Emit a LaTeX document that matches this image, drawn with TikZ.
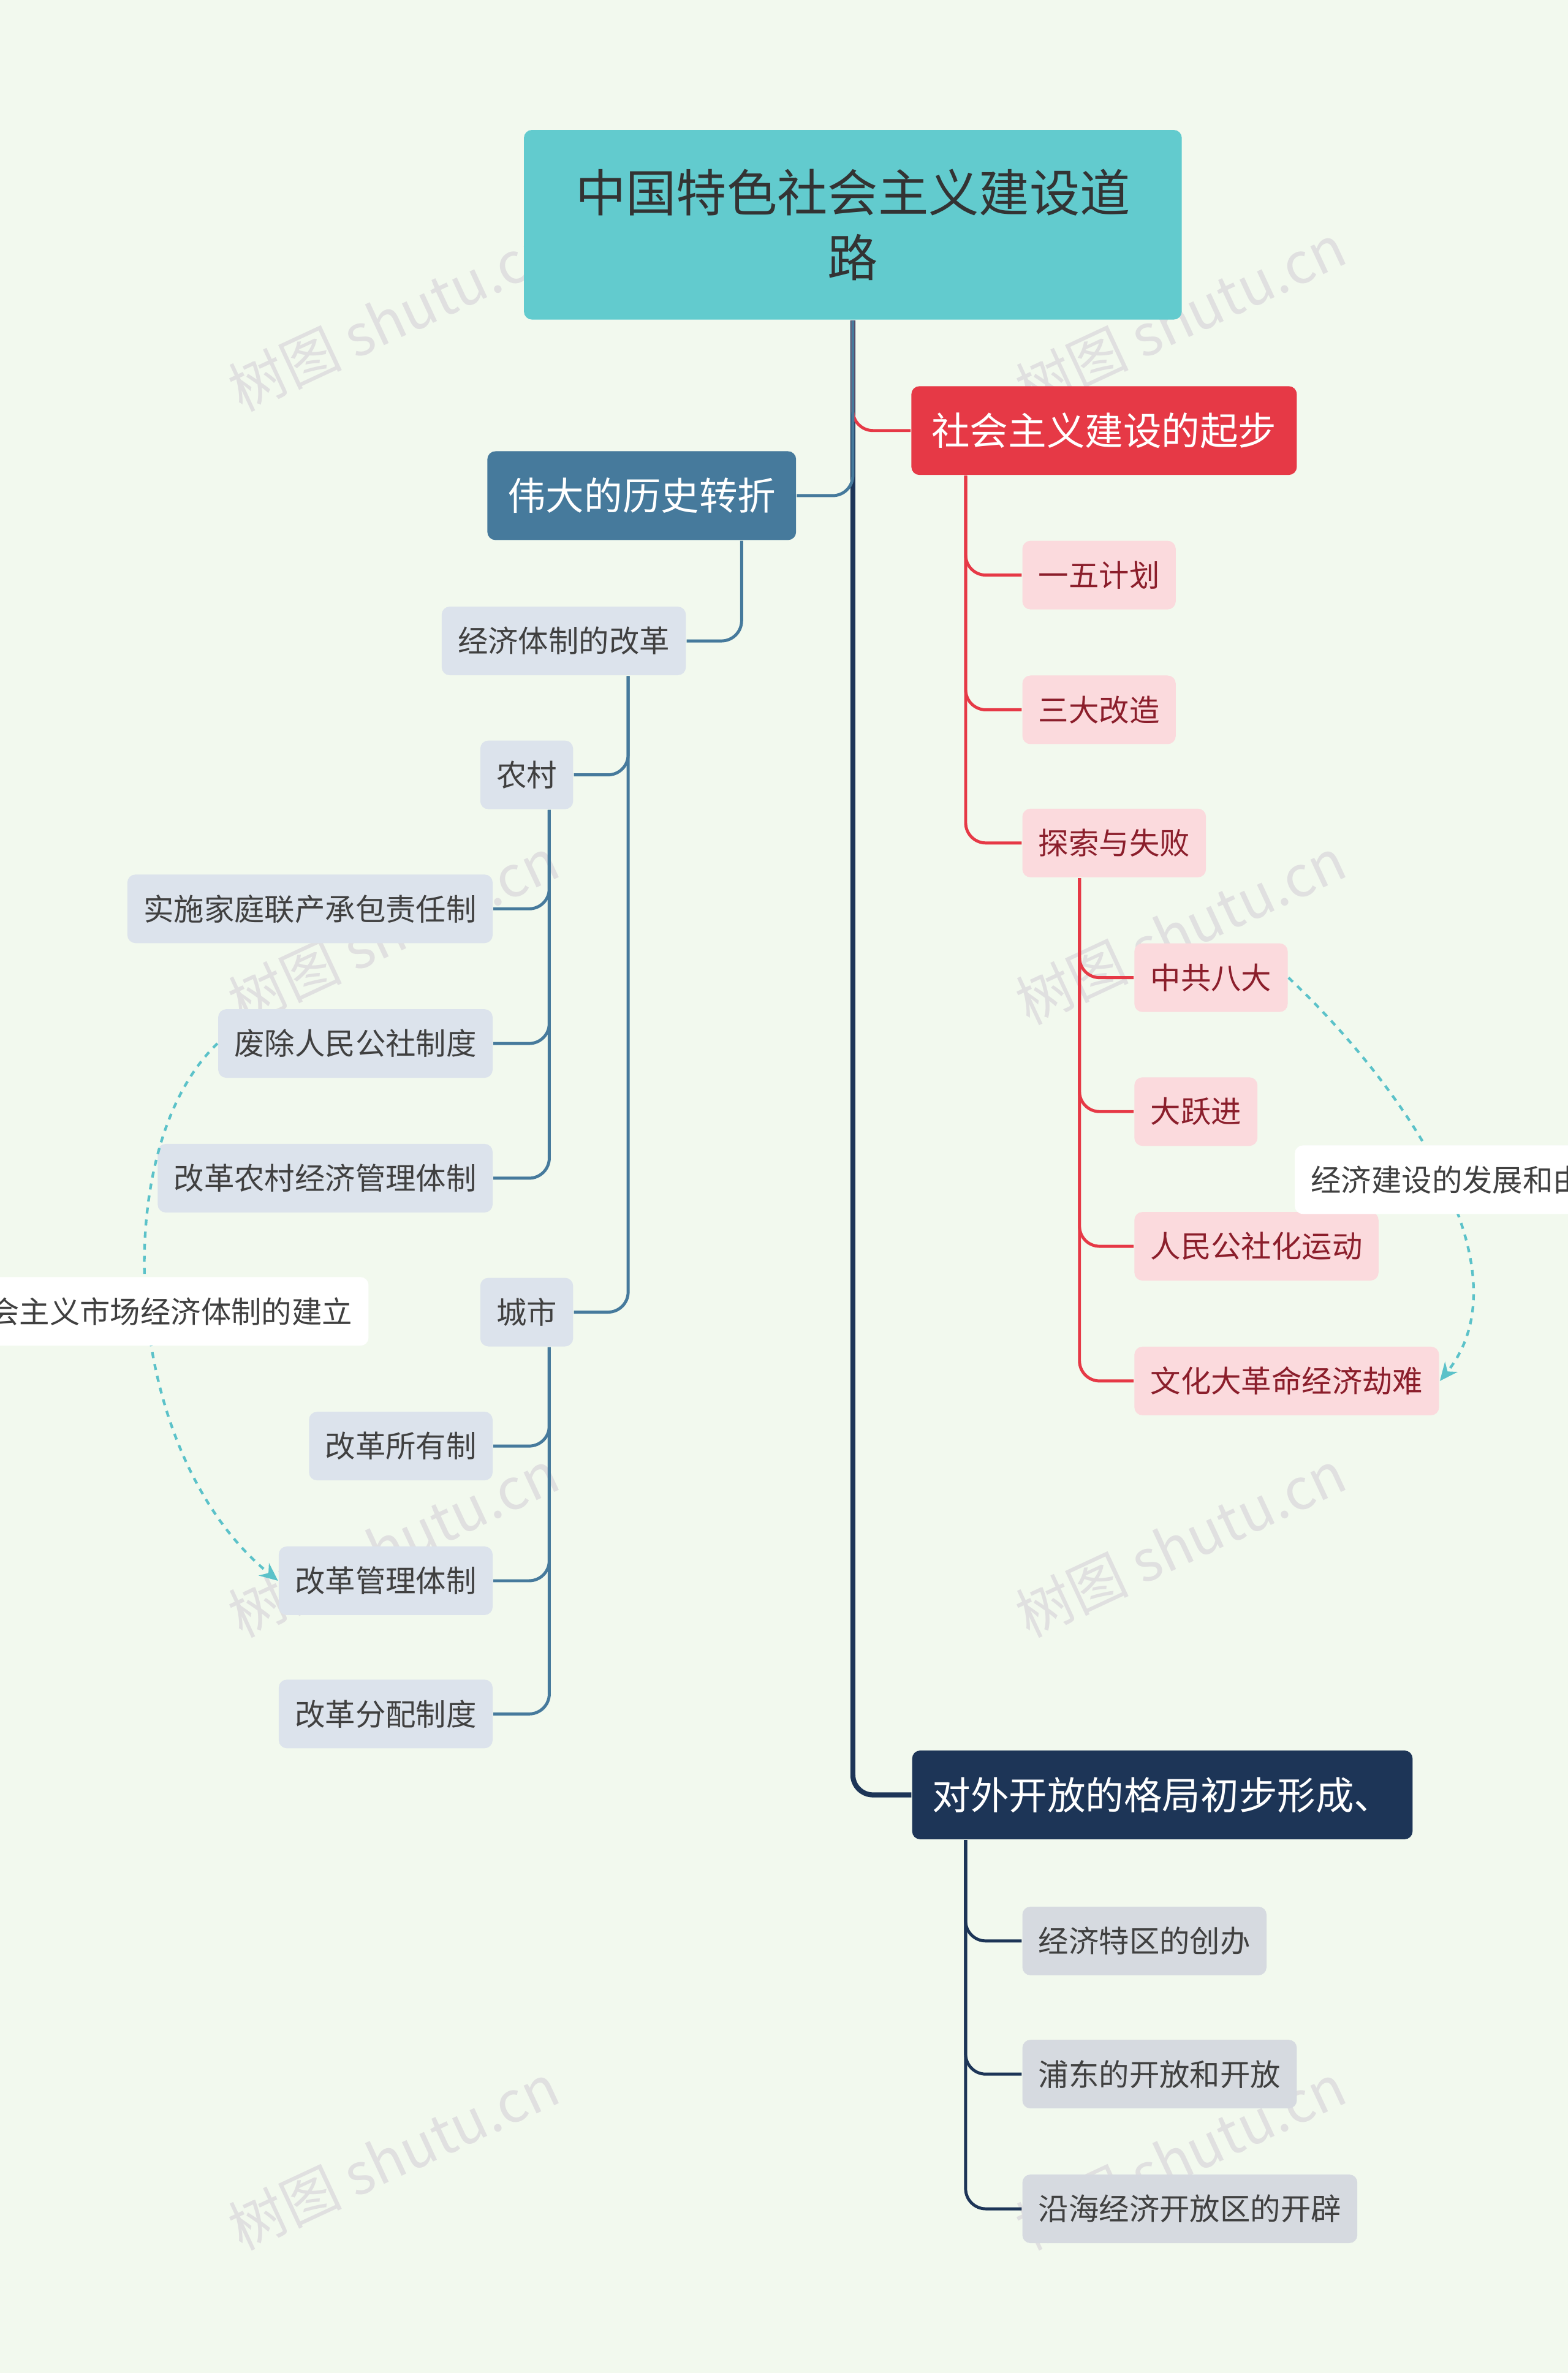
\documentclass[tikz,border=0pt]{standalone}
\usepackage{fontspec}
\newfontfamily\cjk{Noto Sans CJK SC}
\usetikzlibrary{arrows.meta}
\definecolor{bgc}{HTML}{F2F9EE}
\definecolor{rootc}{HTML}{62CBCE}
\definecolor{redc}{HTML}{E63946}
\definecolor{pinkc}{HTML}{FBDADD}
\definecolor{redtxt}{HTML}{8B1E2B}
\definecolor{bluec}{HTML}{467A9C}
\definecolor{lbluec}{HTML}{DCE3EC}
\definecolor{navyc}{HTML}{1D3557}
\definecolor{grayc}{HTML}{D6DAE0}
\definecolor{dashc}{HTML}{5BC2C9}
\tikzset{every picture/.style={line width=0.75pt}}
\tikzset{
  box/.style={rounded corners=4pt, font=\cjk, inner xsep=8pt, minimum height=34pt},
  branch/.style={box, text=white, font=\cjk\fontsize{19}{23}\selectfont, inner xsep=10pt, minimum height=44pt},
  leaf/.style={box, font=\cjk\fontsize{15}{18}\selectfont, text=black!75},
  rleaf/.style={leaf, fill=pinkc, text=redtxt},
  bleaf/.style={leaf, fill=lbluec},
  nleaf/.style={leaf, fill=grayc},
  link/.style={rounded corners=10pt, line width=1.5pt},
  rel/.style={dashed, dashc, line width=1.3pt, -{Stealth[length=9pt,width=8pt]}},
  relabel/.style={fill=white, rounded corners=4pt, font=\cjk\fontsize{15}{18}\selectfont, text=black!75, minimum height=34pt, inner xsep=8pt},
  wmark/.style={font=\cjk\fontsize{28}{32}\selectfont, text=black!12, rotate=25}
}
\begin{document}
\begin{tikzpicture}[x=0.75pt,y=0.75pt,yscale=-1,xscale=1]
\useasboundingbox (0,0) rectangle (1036,1568);
\fill[bgc] (0,0) rectangle (1036,1568);
\clip (0,0) rectangle (1036,1568);

% Watermarks
\foreach \wx/\wy in {260/210, 780/210, 260/615, 780/615, 260/1020, 780/1020, 260/1425, 780/1425}
  \node[wmark] at (\wx,\wy) {树图 shutu.cn};

% Root and branches
\node[box, fill=rootc, text=black!80, font=\cjk\fontsize{25}{32}\selectfont, minimum width=326pt, minimum height=94pt, text width=300pt, align=center] (root) at (563.5,148.5) {中国特色社会主义建设道\\路};
\node[branch, fill=redc] (start) at (729.5,284.5) {社会主义建设的起步};
\node[branch, fill=bluec] (turn) at (424,327.5) {伟大的历史转折};
\node[branch, fill=navyc] (open) at (768,1186) {对外开放的格局初步形成、};

% Red side
\node[rleaf, anchor=west] (plan) at (675,380) {一五计划};
\node[rleaf, anchor=west] (three) at (675,469) {三大改造};
\node[rleaf, anchor=west] (explore) at (675,557) {探索与失败};
\node[rleaf, anchor=west] (eighth) at (749,646) {中共八大};
\node[rleaf, anchor=west] (leap) at (749,734.5) {大跃进};
\node[rleaf, anchor=west] (commune) at (749,823.5) {人民公社化运动};
\node[rleaf, anchor=west] (culture) at (749,912.5) {文化大革命经济劫难};

% Blue side
\node[bleaf] (econ) at (372.5,423.5) {经济体制的改革};
\node[bleaf] (rural) at (348,512) {农村};
\node[bleaf] (urban) at (348,867) {城市};
\node[bleaf, anchor=east] (family) at (326,600.5) {实施家庭联产承包责任制};
\node[bleaf, anchor=east] (abolish) at (326,689.5) {废除人民公社制度};
\node[bleaf, anchor=east] (ruralmgmt) at (326,778.5) {改革农村经济管理体制};
\node[bleaf, anchor=east] (owner) at (326,955.5) {改革所有制};
\node[bleaf, anchor=east] (mgmt) at (326,1044.5) {改革管理体制};
\node[bleaf, anchor=east] (distr) at (326,1132.5) {改革分配制度};

% Navy side
\node[nleaf, anchor=west] (zone) at (675,1282.5) {经济特区的创办};
\node[nleaf, anchor=west] (pudong) at (675,1370.5) {浦东的开放和开放};
\node[nleaf, anchor=west] (coast) at (675,1459.5) {沿海经济开放区的开辟};

% Trunk
\draw[link, navyc, line width=2.5pt] (root.south) |- (open.west);
\draw[link, redc] (root.south) |- (start.west);
\draw[link, bluec] (root.south) |- (turn.east);

% Connectors
\foreach \c in {plan, three, explore}
  \draw[link, redc] ([xshift=-68.6pt]start.south) |- (\c.west);
\foreach \c in {eighth, leap, commune, culture}
  \draw[link, redc] ([xshift=-17.2pt]explore.south) |- (\c.west);
\draw[link, bluec] ([xshift=49.5pt]turn.south) |- (econ.east);
\foreach \c in {rural, urban}
  \draw[link, bluec] ([xshift=31.9pt]econ.south) |- (\c.east);
\foreach \c in {family, abolish, ruralmgmt}
  \draw[link, bluec] ([xshift=11.2pt]rural.south) |- (\c.east);
\foreach \c in {owner, mgmt, distr}
  \draw[link, bluec] ([xshift=11.2pt]urban.south) |- (\c.east);
\foreach \c in {zone, pudong, coast}
  \draw[link, navyc] ([xshift=-97.5pt]open.south) |- (\c.west);

% Relations
\draw[rel] (eighth.east) .. controls (930,720) and (1010,840) .. (culture.east);
\draw[rel] (abolish.west) .. controls (70,760) and (80,960) .. (mgmt.west);
\node[relabel, anchor=west] (rel1) at (855,779.5) {经济建设的发展和由};
\node[relabel, anchor=east] (rel2) at (244,866.5) {会主义市场经济体制的建立};

\end{tikzpicture}
\end{document}
